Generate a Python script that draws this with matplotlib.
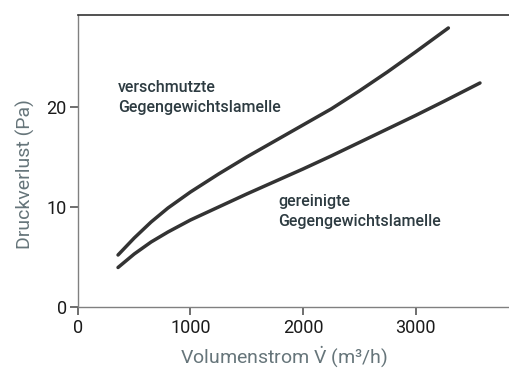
import matplotlib
matplotlib.use("Agg")
import matplotlib.pyplot as plt

plt.rcParams['font.family'] = ['Roboto', 'DejaVu Sans']
plt.rcParams['mathtext.fontset'] = 'custom'
plt.rcParams['mathtext.rm'] = 'Roboto'

# Pressure loss over volume flow, read at fixed flow values
flow_dirty = [356, 500, 650, 800, 1000, 1250, 1500, 1750, 2000, 2250, 2500, 2750, 3000, 3292]
loss_dirty = [5.2, 6.9, 8.5, 9.9, 11.5, 13.3, 15.0, 16.6, 18.2, 19.8, 21.6, 23.5, 25.5, 27.9]

flow_clean = [356, 500, 650, 800, 1000, 1250, 1500, 1750, 2000, 2250, 2500, 2750, 3000, 3250, 3573]
loss_clean = [3.95, 5.3, 6.5, 7.5, 8.7, 10.0, 11.3, 12.55, 13.8, 15.1, 16.45, 17.8, 19.15, 20.55, 22.4]

x_ticks = [0, 1000, 2000, 3000]
y_ticks = [0, 10, 20]

label_dirty = "verschmutzte\nGegengewichtslamelle"
label_clean = "gereinigte\nGegengewichtslamelle"

fig = plt.figure(figsize=(5.09, 3.70), dpi=100)
ax = fig.add_axes([0.1532, 0.1703, 0.8468, 0.7892])

ax.plot(flow_dirty, loss_dirty, color="#333333", lw=2.5, solid_capstyle="round")
ax.plot(flow_clean, loss_clean, color="#333333", lw=2.5, solid_capstyle="round")

ax.set_xlim(0, 3831)
ax.set_ylim(0, 29.2)
ax.set_xticks(x_ticks)
ax.set_yticks(y_ticks)

ax.spines["right"].set_visible(False)
ax.spines["top"].set_color("#333333")
ax.spines["top"].set_linewidth(1.2)
for side in ("left", "bottom"):
    ax.spines[side].set_color("#808080")
    ax.spines[side].set_linewidth(1.0)

ax.tick_params(axis="both", colors="#555555", labelcolor="#1a1a1a",
               labelsize=13, length=6, width=1.2)
ax.tick_params(axis="x", pad=3)
ax.tick_params(axis="y", pad=2)

ax.set_xlabel(r"Volumenstrom $\dot{\mathrm{V}}$ (m³/h)", fontsize=14, color="#66757a")
ax.set_ylabel("Druckverlust (Pa)", fontsize=14, color="#66757a")
ax.xaxis.set_label_coords(0.478, -0.128)
ax.yaxis.set_label_coords(-0.10, 0.455)

# curve labels placed in pixel coordinates (origin bottom-left)
ax.text(118, 370 - 112, label_dirty, transform=None, fontsize=11.5, fontweight="medium",
        color="#2d3b41", va="baseline", linespacing=1.45)
ax.text(278, 370 - 226, label_clean, transform=None, fontsize=11.5, fontweight="medium",
        color="#2d3b41", va="baseline", linespacing=1.45)

fig.savefig("out.png", dpi=100)
